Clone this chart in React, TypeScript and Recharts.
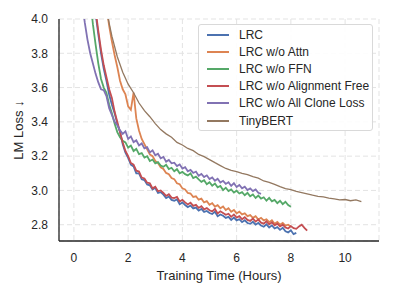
import { LineChart, Line, XAxis, YAxis, CartesianGrid, Label } from "recharts";

// training time is sampled evenly: [start hour, step]
const lrcStart = [0.6, 0.1];
const lrcLoss = [
  4.35, 4.18, 4.03, 3.91, 3.8, 3.71, 3.64, 3.56, 3.5, 3.45,
  3.39, 3.34, 3.27, 3.22, 3.19, 3.15, 3.14, 3.1, 3.1, 3.065,
  3.06, 3.035, 3.03, 3.005, 3.015, 2.985, 2.99, 2.975, 2.955, 2.965,
  2.945, 2.94, 2.948, 2.92, 2.93, 2.915, 2.903, 2.912, 2.895, 2.9,
  2.882, 2.892, 2.875, 2.88, 2.868, 2.862, 2.876, 2.85, 2.86, 2.852,
  2.84, 2.846, 2.828, 2.842, 2.825, 2.832, 2.815, 2.826, 2.81, 2.805,
  2.817, 2.8, 2.81, 2.795, 2.788, 2.802, 2.784, 2.796, 2.778, 2.786,
  2.77, 2.782, 2.762, 2.755, 2.768, 2.745, 2.752,
];

const attnStart = [1.1, 0.1];
const attnLoss = [
  4.22, 4.07, 3.96, 3.87, 3.79, 3.72, 3.64, 3.59, 3.56, 3.49,
  3.47, 3.57, 3.42, 3.35, 3.3, 3.27, 3.24, 3.21, 3.2, 3.172,
  3.16, 3.135, 3.125, 3.102, 3.095, 3.072, 3.066, 3.042, 3.036, 3.012,
  3.006, 2.985, 2.982, 2.962, 2.966, 2.946, 2.952, 2.93, 2.937, 2.916,
  2.926, 2.906, 2.914, 2.896, 2.906, 2.886, 2.896, 2.876, 2.886, 2.866,
  2.876, 2.86, 2.866, 2.85, 2.856, 2.84, 2.85, 2.83, 2.84, 2.825,
  2.832, 2.815, 2.826, 2.806, 2.816, 2.8, 2.81, 2.795, 2.8, 2.79,
];

const ffnStart = [0.5, 0.1];
const ffnLoss = [
  4.28, 4.12, 3.97, 3.85, 3.74, 3.65, 3.6, 3.57, 3.5, 3.45,
  3.39, 3.34, 3.31, 3.29, 3.28, 3.25, 3.262, 3.23, 3.242, 3.212,
  3.218, 3.192, 3.2, 3.172, 3.18, 3.158, 3.165, 3.145, 3.138, 3.15,
  3.125, 3.132, 3.112, 3.124, 3.1, 3.108, 3.095, 3.088, 3.1, 3.072,
  3.08, 3.064, 3.05, 3.06, 3.036, 3.048, 3.028, 3.04, 3.018, 3.026,
  3.002, 3.016, 2.996, 3.006, 2.988, 2.998, 2.982, 2.99, 2.972, 2.986,
  2.966, 2.976, 2.956, 2.97, 2.952, 2.96, 2.94, 2.956, 2.936, 2.945,
  2.926, 2.94, 2.92, 2.934, 2.915, 2.905,
];

const alignStart = [0.6, 0.1];
const alignLoss = [
  4.38, 4.2, 4.05, 3.93, 3.82, 3.73, 3.66, 3.59, 3.54, 3.46,
  3.4, 3.34, 3.28, 3.23, 3.2, 3.16, 3.15, 3.115, 3.11, 3.075,
  3.07, 3.045, 3.042, 3.012, 3.022, 2.995, 3.0, 2.985, 2.968, 2.978,
  2.958, 2.955, 2.962, 2.935, 2.945, 2.93, 2.918, 2.928, 2.91, 2.916,
  2.898, 2.908, 2.89, 2.897, 2.884, 2.878, 2.892, 2.866, 2.878, 2.868,
  2.858, 2.864, 2.846, 2.86, 2.842, 2.85, 2.832, 2.844, 2.828, 2.822,
  2.836, 2.818, 2.83, 2.812, 2.806, 2.82, 2.802, 2.814, 2.796, 2.806,
  2.79, 2.8, 2.784, 2.778, 2.792, 2.78, 2.776, 2.79, 2.8, 2.782,
  2.765,
];

const cloneStart = [0.2, 0.1];
const cloneLoss = [
  4.25, 4.1, 3.98, 3.88, 3.8, 3.74, 3.68, 3.63, 3.59, 3.585,
  3.55, 3.48, 3.44, 3.4, 3.38, 3.35, 3.33, 3.345, 3.3, 3.315,
  3.282, 3.292, 3.262, 3.274, 3.245, 3.252, 3.222, 3.234, 3.205, 3.214,
  3.188, 3.196, 3.168, 3.178, 3.158, 3.162, 3.142, 3.152, 3.128, 3.136,
  3.112, 3.12, 3.102, 3.11, 3.086, 3.096, 3.078, 3.088, 3.066, 3.076,
  3.056, 3.068, 3.046, 3.056, 3.038, 3.048, 3.026, 3.042, 3.02, 3.032,
  3.012, 3.022, 3.002, 3.012, 2.996, 3.006, 2.986, 2.98,
];

const tinyStart = [1.0, 0.2];
const tinyLoss = [
  4.25, 4.05, 3.9, 3.78, 3.69, 3.62, 3.57, 3.51, 3.465, 3.43,
  3.39, 3.355, 3.33, 3.31, 3.28, 3.265, 3.245, 3.232, 3.21, 3.197,
  3.18, 3.162, 3.145, 3.128, 3.117, 3.11, 3.1, 3.092, 3.08, 3.072,
  3.055, 3.047, 3.035, 3.022, 3.01, 3.005, 2.994, 2.987, 2.98, 2.972,
  2.965, 2.962, 2.955, 2.951, 2.945, 2.947, 2.94, 2.945, 2.935,
];

const xTicks = [0, 2, 4, 6, 8, 10];
const yTicks = [2.8, 3.0, 3.2, 3.4, 3.6, 3.8, 4.0];

const toPoints = (start: number[], loss: number[]) =>
  loss.map((v, i) => ({ t: +(start[0] + i * start[1]).toFixed(2), loss: v }));

const series = [
  { name: "LRC", color: "#4C72B0", data: toPoints(lrcStart, lrcLoss), width: 1.8 },
  { name: "LRC w/o Attn", color: "#DD8452", data: toPoints(attnStart, attnLoss), width: 1.8 },
  { name: "LRC w/o FFN", color: "#55A868", data: toPoints(ffnStart, ffnLoss), width: 1.8 },
  { name: "LRC w/o Alignment Free", color: "#C44E52", data: toPoints(alignStart, alignLoss), width: 1.8 },
  { name: "LRC w/o All Clone Loss", color: "#8172B3", data: toPoints(cloneStart, cloneLoss), width: 1.8 },
  { name: "TinyBERT", color: "#937860", data: toPoints(tinyStart, tinyLoss), width: 1.3 },
];

const font = "'Liberation Sans', Arial, sans-serif";
const ink = "#262626";

export default function App() {
  return (
    <div style={{ position: "absolute", left: 0, top: 0, width: 393, height: 295, fontFamily: font }}>
      <LineChart width={393} height={295} margin={{ top: 19, right: 14, bottom: 0, left: 0 }}>
        <CartesianGrid stroke="#e3e3e3" strokeDasharray="5 3" strokeWidth={1} />
        <XAxis
          type="number"
          dataKey="t"
          domain={[-0.55, 11.25]}
          allowDataOverflow
          ticks={xTicks}
          height={54}
          tickLine={false}
          tickSize={10}
          tickMargin={2}
          stroke={ink}
          strokeWidth={1.3}
          tick={{ fill: ink, fontSize: 12, fontFamily: font }}
        >
          <Label value="Training Time (Hours)" position="insideBottom" offset={15} fill={ink} fontSize={13} fontFamily={font} />
        </XAxis>
        <YAxis
          type="number"
          dataKey="loss"
          domain={[2.705, 4.0]}
          allowDataOverflow
          ticks={yTicks}
          width={59}
          tickLine={false}
          tickSize={9}
          tickMargin={2}
          tickFormatter={(v: number) => v.toFixed(1)}
          stroke={ink}
          strokeWidth={1.3}
          tick={{ fill: ink, fontSize: 12, fontFamily: font }}
        >
          <Label
            value="LM Loss ↓"
            angle={-90}
            position="insideLeft"
            offset={18}
            fill={ink}
            fontSize={13}
            fontFamily={font}
            style={{ textAnchor: "middle" }}
          />
        </YAxis>
        {series.map((s) => (
          <Line
            key={s.name}
            data={s.data}
            dataKey="loss"
            name={s.name}
            type="linear"
            stroke={s.color}
            strokeWidth={s.width}
            dot={false}
            activeDot={false}
            isAnimationActive={false}
          />
        ))}
      </LineChart>
      <div
        style={{
          position: "absolute",
          left: 198,
          top: 24,
          width: 175,
          height: 107,
          boxSizing: "border-box",
          background: "rgba(255,255,255,0.9)",
          border: "1px solid #d9d9d9",
          borderRadius: 3,
          paddingTop: 1,
        }}
      >
        {series.map((s) => (
          <div key={s.name} style={{ display: "flex", alignItems: "center", height: 17.2, fontSize: 12, color: ink }}>
            <span style={{ display: "inline-block", width: 22, height: 2, background: s.color, marginLeft: 8, marginRight: 10 }} />
            <span style={{ whiteSpace: "nowrap" }}>{s.name}</span>
          </div>
        ))}
      </div>
    </div>
  );
}
